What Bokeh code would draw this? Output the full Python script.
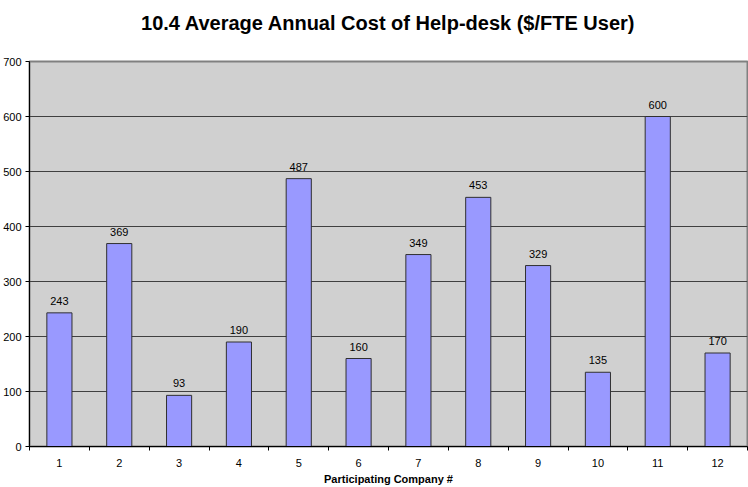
from bokeh.plotting import figure
from bokeh.models import ColumnDataSource, FixedTicker, Range1d, LabelSet, Title
from bokeh.core.properties import value
from bokeh.embed import file_html
from bokeh.resources import INLINE

companies = [1, 2, 3, 4, 5, 6, 7, 8, 9, 10, 11, 12]
costs = [243, 369, 93, 190, 487, 160, 349, 453, 329, 135, 600, 170]
y_ticks = [0, 100, 200, 300, 400, 500, 600, 700]

src = ColumnDataSource(dict(x=companies, top=costs, label=[str(v) for v in costs]))

FONT = "Liberation Sans"

p = figure(width=748, height=487, output_backend="svg", toolbar_location=None,
           x_range=Range1d(0.5, 12.5), y_range=Range1d(0, 700),
           title="10.4 Average Annual Cost of Help-desk ($/FTE User)",
           min_border_left=27, min_border_right=1, min_border_bottom=30, min_border_top=10)

p.title.text_font = FONT
p.title.text_font_size = "20px"
p.title.text_font_style = "bold"
p.title.align = "center"
p.title.text_color = "black"
p.title.standoff = 18

# empty spacer panel between the title and the plot area
p.add_layout(Title(text=" ", text_font_size="1px", standoff=16), "above")

p.background_fill_color = "#d0d0d0"
p.border_fill_color = "white"
p.outline_line_color = "#808080"
p.outline_line_width = 2

p.vbar(x="x", top="top", width=0.42, source=src, fill_color="#9999ff",
       line_color="#303030", line_width=1)

labels = LabelSet(x="x", y="top", text="label", source=src, y_offset=8,
                  text_align="center", text_baseline="bottom",
                  text_font=value(FONT), text_font_size=value("11px"), text_color="black")
p.add_layout(labels)

p.xaxis.ticker = FixedTicker(ticks=companies, minor_ticks=[i + 0.5 for i in range(0, 13)])
p.xaxis.major_tick_out = 0
p.xaxis.major_tick_in = 0
p.xaxis.minor_tick_out = 4
p.xaxis.minor_tick_in = 0
p.xaxis.minor_tick_line_color = "black"
p.xaxis.axis_line_color = "black"
p.xaxis.major_label_text_font = FONT
p.xaxis.major_label_text_font_size = "11px"
p.xaxis.major_label_text_color = "black"
p.xaxis.major_label_standoff = 8
p.xaxis.axis_label = "Participating Company #"
p.xaxis.axis_label_text_font = FONT
p.xaxis.axis_label_text_font_size = "11px"
p.xaxis.axis_label_text_font_style = "bold"
p.xaxis.axis_label_text_color = "black"
p.xaxis.axis_label_standoff = 3

p.yaxis.ticker = FixedTicker(ticks=y_ticks)
p.yaxis.major_tick_out = 4
p.yaxis.major_tick_in = 0
p.yaxis.minor_tick_line_color = None
p.yaxis.axis_line_color = "black"
p.yaxis.major_label_text_font = FONT
p.yaxis.major_label_text_font_size = "11px"
p.yaxis.major_label_text_color = "black"
p.yaxis.major_label_standoff = 4

p.xgrid.grid_line_color = None
p.ygrid.grid_line_color = "#404040"
p.ygrid.grid_line_width = 1

open("out.html", "w").write(file_html(p, INLINE))
